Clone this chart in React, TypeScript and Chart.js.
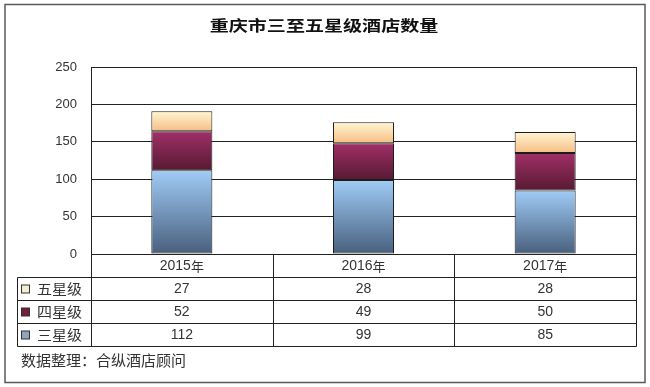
import React, { useEffect, useRef } from "react";
import { Chart, registerables } from "chart.js";

Chart.register(...registerables);

const TITLE = "重庆市三至五星级酒店数量";
const FOOTER = "数据整理：合纵酒店顾问";
const categories = ["2015年", "2016年", "2017年"];
const seriesNames = ["三星级", "四星级", "五星级"];
const threeStar = [112, 99, 85];
const fourStar = [52, 49, 50];
const fiveStar = [27, 28, 28];
const yMax = 250;
const yStep = 50;

const seriesValues = [threeStar, fourStar, fiveStar];
const gradientStops: [string, string][] = [
  ["#a0ccf7", "#485f7c"],
  ["#a12f68", "#571a32"],
  ["#fff6d2", "#f5bd84"],
];
const legendColors = ["#8da5bf", "#72203f", "#f4edcf"];

const CJK = '"Noto Sans CJK SC", "Noto Sans", sans-serif';
const LAT = '"Liberation Sans", Arial, sans-serif';

function makeFill(di: number) {
  return (ctx: any) => {
    const chart = ctx.chart;
    const area = chart.chartArea;
    const y = chart.scales && chart.scales.y;
    if (!area || !y || ctx.dataIndex === undefined) return gradientStops[di][1];
    const i = ctx.dataIndex;
    let base = 0;
    for (let d = 0; d < di; d++) base += seriesValues[d][i];
    const top = base + seriesValues[di][i];
    const y0 = y.getPixelForValue(top);
    const y1 = y.getPixelForValue(base);
    if (!isFinite(y0) || !isFinite(y1) || y0 === y1) return gradientStops[di][1];
    const g = chart.ctx.createLinearGradient(0, y0, 0, y1);
    g.addColorStop(0, gradientStops[di][0]);
    g.addColorStop(1, gradientStops[di][1]);
    return g;
  };
}

const decorPlugin = {
  id: "decor",
  beforeDraw(chart: any) {
    const c = chart.ctx;
    c.save();
    c.fillStyle = "#ffffff";
    c.fillRect(0, 0, chart.width, chart.height);
    c.strokeStyle = "#5a5a5a";
    c.lineWidth = 1.5;
    c.strokeRect(5, 4.5, 640, 378);
    c.restore();
  },
  afterDraw(chart: any) {
    const c = chart.ctx;
    const area = chart.chartArea;
    const x = chart.scales.x;
    const line = "#222222";
    c.save();

    // title (horizontally stretched like the reference)
    c.fillStyle = "#111111";
    c.font = `bold 15px ${CJK}`;
    c.textAlign = "center";
    c.textBaseline = "middle";
    c.save();
    c.scale(1.27, 1);
    c.fillText(TITLE, 324 / 1.27, 25);
    c.restore();

    // plot frame
    c.strokeStyle = line;
    c.lineWidth = 1;
    const L = Math.round(area.left) + 0.5;
    const R = Math.round(area.right) + 0.5;
    const T = Math.round(area.top) + 0.5;
    const B = Math.round(area.bottom) + 0.5;
    c.strokeRect(L, T, R - L, B - T);

    // data table
    const rowH = 23;
    const rows = [B, B + rowH, B + 2 * rowH, B + 3 * rowH, B + 4 * rowH];
    const tableLeft = 17.5;
    const colW = (area.right - area.left) / categories.length;
    c.beginPath();
    // category row lines
    c.moveTo(L, rows[1]);
    c.lineTo(R, rows[1]);
    for (let r = 1; r < rows.length; r++) {
      c.moveTo(tableLeft, rows[r]);
      c.lineTo(R, rows[r]);
    }
    c.moveTo(tableLeft, rows[1]);
    c.lineTo(tableLeft, rows[4]);
    c.moveTo(L, rows[0]);
    c.lineTo(L, rows[4]);
    for (let k = 1; k <= categories.length; k++) {
      const xx = Math.round(x.getPixelForValue(k - 1) + colW / 2) + 0.5;
      c.moveTo(xx, rows[0]);
      c.lineTo(xx, rows[4]);
    }
    c.stroke();

    c.fillStyle = "#333333";
    c.textAlign = "center";
    c.textBaseline = "middle";
    c.font = `14px ${LAT}`;
    categories.forEach((cat, i) => {
      const cx = x.getPixelForValue(i);
      const m = cat.match(/^(\d+)(.*)$/);
      if (m) {
        c.font = `14px ${LAT}`;
        const w1 = c.measureText(m[1]).width;
        c.font = `13px ${CJK}`;
        const w2 = c.measureText(m[2]).width;
        const sx = cx - (w1 + w2) / 2;
        c.textAlign = "left";
        c.font = `14px ${LAT}`;
        c.fillText(m[1], sx, (rows[0] + rows[1]) / 2 + 0.5);
        c.font = `13px ${CJK}`;
        c.fillText(m[2], sx + w1, (rows[0] + rows[1]) / 2);
        c.textAlign = "center";
      } else {
        c.fillText(cat, cx, (rows[0] + rows[1]) / 2);
      }
    });

    // rows: top row is the top of the stack
    const order = [2, 1, 0];
    order.forEach((di, r) => {
      const cy = (rows[r + 1] + rows[r + 2]) / 2;
      // legend square
      c.fillStyle = legendColors[di];
      c.fillRect(21.5, cy - 4, 8, 8);
      c.strokeStyle = "#333333";
      c.lineWidth = 1;
      c.strokeRect(21.5, cy - 4, 8, 8);
      c.fillStyle = "#333333";
      c.font = `14px ${CJK}`;
      c.textAlign = "left";
      c.save();
      c.scale(1.07, 1);
      c.fillText(seriesNames[di], 37 / 1.07, cy);
      c.restore();
      c.font = `14px ${LAT}`;
      c.textAlign = "center";
      seriesValues[di].forEach((v, i) => {
        c.fillText(String(v), x.getPixelForValue(i), cy + 0.5);
      });
    });

    // footer
    c.fillStyle = "#333333";
    c.font = `15px ${CJK}`;
    c.textAlign = "left";
    c.textBaseline = "middle";
    c.fillText(FOOTER, 21, 360);
    c.restore();
  },
};

export default function App() {
  const ref = useRef<HTMLCanvasElement | null>(null);
  useEffect(() => {
    if (!ref.current) return;
    const chart = new Chart(ref.current, {
      type: "bar",
      data: {
        labels: categories,
        datasets: seriesValues.map((vals, di) => ({
          label: seriesNames[di],
          data: vals,
          backgroundColor: makeFill(di),
          borderColor: "#1c1c1c",
          borderWidth: 1,
          borderSkipped: false,
          barPercentage: 0.336,
          categoryPercentage: 1,
        })),
      },
      options: {
        responsive: false,
        animation: false,
        layout: { padding: { left: 0, right: 14, top: 67, bottom: 133 } },
        plugins: {
          legend: { display: false },
          title: { display: false },
          tooltip: { enabled: false },
        },
        scales: {
          x: { display: false, stacked: true },
          y: {
            stacked: true,
            min: 0,
            max: yMax,
            ticks: {
              stepSize: yStep,
              color: "#333333",
              font: { family: "Liberation Sans", size: 13 },
              padding: 14,
            },
            grid: { color: "#222222", lineWidth: 1, drawTicks: false },
            border: { display: true, color: "#222222" },
            afterFit: (s: any) => {
              s.width = 91;
            },
          },
        },
      },
      plugins: [decorPlugin],
    });
    return () => chart.destroy();
  }, []);
  return (
    <div style={{ position: "fixed", left: 0, top: 0, width: 650, height: 387, background: "#fff" }}>
      <canvas ref={ref} width={650} height={387} style={{ display: "block" }} />
    </div>
  );
}
